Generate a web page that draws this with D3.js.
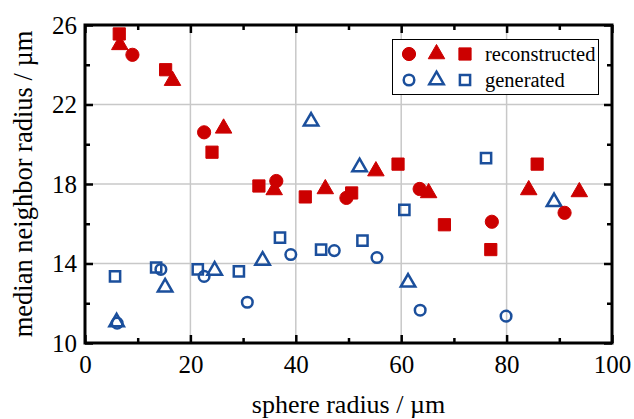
<!DOCTYPE html>
<html>
<head>
<meta charset="utf-8">
<script src="https://cdn.jsdelivr.net/npm/d3@7"></script>
<style>
  body { margin: 0; background: #fff; }
  svg { display: block; }
</style>
</head>
<body>
<svg id="chart" width="634" height="419"></svg>
<script>
// Reconstructed samples: [sphere radius, median neighbor radius]
const reconstructedCircle = [[9.0, 24.5], [22.6, 20.6], [36.3, 18.15], [49.6, 17.3], [63.5, 17.75], [77.2, 16.1], [91.0, 16.55]];
const reconstructedTriangle = [[6.6, 25.0], [16.6, 23.2], [26.3, 20.8], [35.9, 17.7], [45.6, 17.75], [55.2, 18.65], [65.2, 17.55], [84.2, 17.7], [93.8, 17.6]];
const reconstructedSquare = [[6.5, 25.55], [15.3, 23.75], [24.1, 19.6], [33.0, 17.9], [41.8, 17.35], [50.6, 17.55], [59.4, 19.0], [68.2, 15.95], [77.0, 14.7], [85.8, 19.0]];

// Generated samples
const generatedCircle = [[6.1, 11.0], [14.4, 13.7], [22.6, 13.35], [30.8, 12.05], [39.05, 14.45], [47.3, 14.65], [55.4, 14.3], [63.6, 11.65], [79.9, 11.35]];
const generatedTriangle = [[6.0, 11.05], [15.2, 12.8], [24.6, 13.65], [33.7, 14.15], [42.9, 21.15], [52.1, 18.85], [61.3, 13.05], [89.0, 17.1]];
const generatedSquare = [[5.7, 13.35], [13.5, 13.8], [21.4, 13.7], [29.2, 13.6], [37.0, 15.3], [44.8, 14.7], [52.65, 15.15], [60.6, 16.7], [76.1, 19.3]];

const xMajorTicks = [0, 20, 40, 60, 80, 100];
const xMinorTicks = [10, 30, 50, 70, 90];
const yMajorTicks = [10, 14, 18, 22, 26];
const yMinorTicks = [12, 16, 20, 24];
const legendLabels = ["reconstructed", "generated"];

const RED = "#cc0000";
const BLUE = "#1b4f9c";
const FONT = "Liberation Serif";

const svg = d3.select("#chart");
const plot = { left: 85, right: 612, top: 25, bottom: 343 };

const x = d3.scaleLinear().domain([0, 100]).range([plot.left, plot.right]);
const y = d3.scaleLinear().domain([10, 26]).range([plot.bottom, plot.top]);

// Grid lines at major ticks
const grid = svg.append("g").attr("stroke", "#c8c8c8").attr("stroke-width", 1.5);
xMajorTicks.slice(1, -1).forEach(v => {
  grid.append("line").attr("x1", x(v)).attr("x2", x(v)).attr("y1", plot.top).attr("y2", plot.bottom);
});
yMajorTicks.slice(1, -1).forEach(v => {
  grid.append("line").attr("x1", plot.left).attr("x2", plot.right).attr("y1", y(v)).attr("y2", y(v));
});

// Markers
const sym = {
  circle: d3.symbol().type(d3.symbolCircle),
  square: d3.symbol().type(d3.symbolSquare),
  triangle: d3.symbol().type(d3.symbolTriangle)
};
const filledSize = { circle: Math.PI * 6.6 * 6.6, square: 12.2 * 12.2, triangle: Math.sqrt(3) / 4 * 16.5 * 16.5 };
const openSize = { circle: Math.PI * 5.3 * 5.3, square: 10.2 * 10.2, triangle: Math.sqrt(3) / 4 * 14.5 * 14.5 };

function marker(g, shape, filled, color, px, py) {
  const path = sym[shape].size(filled ? filledSize[shape] : openSize[shape])();
  g.append("path")
    .attr("d", path)
    .attr("transform", `translate(${px},${py})`)
    .attr("fill", filled ? color : "none")
    .attr("stroke", color)
    .attr("stroke-width", filled ? 1 : 2.5)
    .attr("stroke-linejoin", filled ? "round" : "miter");
}

function series(data, shape, filled, color) {
  const g = svg.append("g");
  data.forEach(d => marker(g, shape, filled, color, x(d[0]), y(d[1])));
}

series(generatedSquare, "square", false, BLUE);
series(generatedTriangle, "triangle", false, BLUE);
series(generatedCircle, "circle", false, BLUE);
series(reconstructedSquare, "square", true, RED);
series(reconstructedTriangle, "triangle", true, RED);
series(reconstructedCircle, "circle", true, RED);

// Axes with inward ticks on all four sides
function styleAxis(g) {
  g.attr("font-family", FONT).attr("font-size", 25);
  g.select(".domain").remove();
  g.selectAll(".tick line").attr("stroke", "#000").attr("stroke-width", 2.5);
  g.selectAll("text").attr("fill", "#000");
}

svg.append("g").attr("transform", `translate(0,${plot.bottom})`)
  .call(d3.axisBottom(x).tickValues(xMajorTicks).tickSize(-8).tickPadding(12).tickFormat(d3.format("d")))
  .call(styleAxis);
svg.append("g").attr("transform", `translate(0,${plot.bottom})`)
  .call(d3.axisBottom(x).tickValues(xMinorTicks).tickSize(-5).tickFormat(""))
  .call(styleAxis);
svg.append("g").attr("transform", `translate(0,${plot.top})`)
  .call(d3.axisTop(x).tickValues(xMajorTicks).tickSize(-8).tickFormat(""))
  .call(styleAxis);
svg.append("g").attr("transform", `translate(0,${plot.top})`)
  .call(d3.axisTop(x).tickValues(xMinorTicks).tickSize(-5).tickFormat(""))
  .call(styleAxis);
svg.append("g").attr("transform", `translate(${plot.left},0)`)
  .call(d3.axisLeft(y).tickValues(yMajorTicks).tickSize(-8).tickPadding(8).tickFormat(d3.format("d")))
  .call(styleAxis);
svg.append("g").attr("transform", `translate(${plot.left},0)`)
  .call(d3.axisLeft(y).tickValues(yMinorTicks).tickSize(-5).tickFormat(""))
  .call(styleAxis);
svg.append("g").attr("transform", `translate(${plot.right},0)`)
  .call(d3.axisRight(y).tickValues(yMajorTicks).tickSize(-8).tickFormat(""))
  .call(styleAxis);
svg.append("g").attr("transform", `translate(${plot.right},0)`)
  .call(d3.axisRight(y).tickValues(yMinorTicks).tickSize(-5).tickFormat(""))
  .call(styleAxis);

// Plot frame
svg.append("rect")
  .attr("x", plot.left).attr("y", plot.top)
  .attr("width", plot.right - plot.left).attr("height", plot.bottom - plot.top)
  .attr("fill", "none").attr("stroke", "#000").attr("stroke-width", 3);

// Axis titles
svg.append("text")
  .attr("x", (plot.left + plot.right) / 2).attr("y", 413)
  .attr("text-anchor", "middle")
  .attr("font-family", FONT).attr("font-size", 26).attr("fill", "#000")
  .text("sphere radius / µm");
svg.append("text")
  .attr("transform", `translate(32,${(plot.top + plot.bottom) / 2}) rotate(-90)`)
  .attr("text-anchor", "middle")
  .attr("font-family", FONT).attr("font-size", 26.5).attr("fill", "#000")
  .text("median neighbor radius / µm");

// Legend
const legend = svg.append("g");
legend.append("rect")
  .attr("x", 392.5).attr("y", 39.5).attr("width", 206).attr("height", 55)
  .attr("fill", "#fff").attr("stroke", "#000").attr("stroke-width", 1);
const legendRows = [
  { label: legendLabels[0], filled: true, color: RED, cy: 54 },
  { label: legendLabels[1], filled: false, color: BLUE, cy: 80 }
];
const legendShapes = [["circle", 409], ["triangle", 436.5], ["square", 465]];
legendRows.forEach(r => {
  legendShapes.forEach(([shape, lx]) => marker(legend, shape, r.filled, r.color, lx, r.cy));
  legend.append("text")
    .attr("x", 485).attr("y", r.cy).attr("dy", "0.33em")
    .attr("font-family", FONT).attr("font-size", 20.5).attr("fill", "#000")
    .text(r.label);
});
</script>
</body>
</html>
